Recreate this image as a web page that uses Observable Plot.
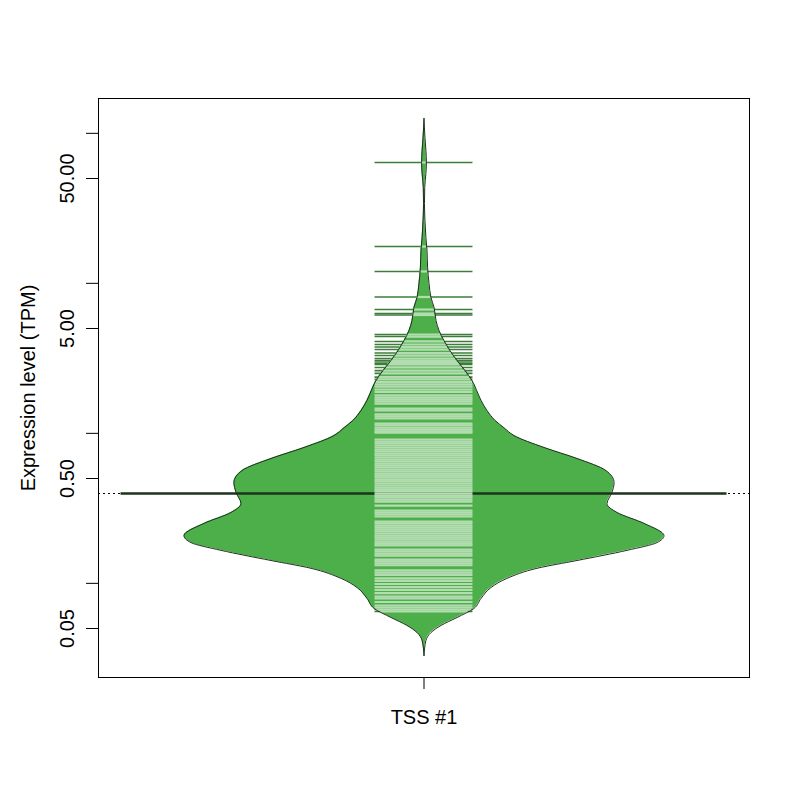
<!DOCTYPE html>
<html>
<head>
<meta charset="utf-8">
<script src="https://cdn.jsdelivr.net/npm/d3@7"></script>
<script src="https://cdn.jsdelivr.net/npm/@observablehq/plot@0.6"></script>
<style>
  html, body { margin: 0; padding: 0; background: #ffffff; }
</style>
</head>
<body>
<div id="chart"></div>
<script>
// ---- data ----
const groupLabel = "TSS #1";
const yTitle = "Expression level (TPM)";
const yTickValues = [0.05, 0.1, 0.5, 1, 5, 10, 50, 100];
const yTickLabels = [0.05, 0.5, 5, 50];

// bean outline: expression value (TPM) and relative density (max = 1)
const densityTPM = [125.6, 93.8, 76.9, 63.9, 54.0, 43.6, 34.1, 26.2, 20.2, 16.6, 12.8, 9.98, 8.05, 6.90,
  5.65, 4.85, 4.16, 3.57, 3.06, 2.62, 2.25, 1.84, 1.66, 1.42, 1.22, 1.09, 0.967, 0.805, 0.680, 0.565,
  0.470, 0.403, 0.340, 0.297, 0.251, 0.208, 0.187, 0.166, 0.142, 0.126, 0.108, 0.0938, 0.0793, 0.0680,
  0.0592, 0.0524, 0.0470, 0.0416, 0.0330];
const densityRel = [0, 0.004, 0.008, 0.010, 0.008, 0.003, 0.002, 0.004, 0.008, 0.0125, 0.015, 0.021, 0.029, 0.042,
  0.05, 0.0625, 0.083, 0.108, 0.1375, 0.171, 0.2, 0.225, 0.2375, 0.2625, 0.296, 0.333, 0.375, 0.5, 0.6375, 0.758,
  0.792, 0.783, 0.7625, 0.804, 0.917, 1.0, 0.971, 0.846, 0.6375, 0.471, 0.346, 0.279, 0.2375, 0.208,
  0.1375, 0.071, 0.029, 0.008, 0];

// individual observations (bean lines), TPM
const lineTPM = [63.9, 17.6, 12.0, 8.11, 6.69, 6.29, 6.15, 4.56, 4.42, 4.10, 3.91, 3.76, 3.62, 3.43, 3.30,
  3.15, 3.04, 2.94, 2.88, 2.75, 2.62, 2.51, 2.37, 2.29, 2.20, 2.12, 2.05, 1.96, 1.89,
  1.79, 1.73, 1.68, 1.63, 1.58, 1.46, 1.42, 1.34, 1.30, 1.26, 1.16, 1.13, 1.09, 1.06, 1.03, 1.01,
  0.910, 0.882, 0.856, 0.830, 0.805, 0.780, 0.757, 0.734, 0.712, 0.690, 0.669, 0.649, 0.629, 0.610,
  0.592, 0.574, 0.557, 0.540, 0.524, 0.508, 0.492, 0.478, 0.463, 0.449, 0.435, 0.422, 0.410, 0.397,
  0.385, 0.374, 0.362, 0.351, 0.330, 0.306, 0.297, 0.288, 0.279, 0.258, 0.251, 0.243, 0.236, 0.229,
  0.222, 0.215, 0.208, 0.202, 0.196, 0.190, 0.184, 0.179, 0.168, 0.163, 0.158, 0.153, 0.144, 0.140,
  0.136, 0.132, 0.122, 0.118, 0.114, 0.108, 0.104, 0.0990, 0.0945, 0.0903, 0.0862, 0.0817, 0.0793,
  0.0751, 0.0712, 0.0690, 0.0669, 0.0649];

const averageTPM = 0.397;

// ---- styling ----
const beanFill = "#4DAF4A";
const outlineColor = "#1f2f1f";
const innerLineColor = "#b3ddb1";
const outerLineColor = "#3c7d3a";
const averageColor = "#1e331e";
const fontFamily = '"Liberation Sans", Arial, Helvetica, sans-serif';
const LINE_HALF = 0.204;   // half length of bean lines (density units)
const AVG_HALF = 1.2625;   // half length of bean average line

const beanTable = densityTPM.map((v, i) => ({v, w: densityRel[i]}));
const logs = beanTable.map(d => Math.log10(d.v));
function widthAt(v) {
  const L = Math.log10(v);
  for (let i = 0; i < beanTable.length - 1; i++) {
    const a = logs[i], b = logs[i + 1];
    if (L <= a && L >= b) {
      const t = (a - L) / (a - b);
      return beanTable[i].w * (1 - t) + beanTable[i + 1].w * t;
    }
  }
  return 0;
}
const innerHalf = d => Math.min(widthAt(d), LINE_HALF);

const chart = Plot.plot({
  width: 800,
  height: 800,
  marginLeft: 98,
  marginRight: 51,
  marginTop: 98,
  marginBottom: 123,
  style: {fontFamily, fontSize: "20px", background: "#ffffff", color: "black"},
  x: {domain: [-1.35625, 1.35625], axis: null},
  y: {type: "log", domain: [0.02357, 170.7], axis: null},
  marks: [
    Plot.ruleY([averageTPM], {y: d => d, stroke: "black", strokeDasharray: "2,3", strokeWidth: 1.1}),
    Plot.ruleY(lineTPM, {y: d => d, x1: () => -LINE_HALF, x2: () => LINE_HALF, stroke: outerLineColor, strokeWidth: 1.6}),
    Plot.areaX(beanTable, {y: "v", x1: d => -d.w, x2: d => d.w, fill: beanFill, curve: "monotone-y"}),
    Plot.ruleY([averageTPM], {y: d => d, x1: () => -AVG_HALF, x2: () => AVG_HALF, stroke: averageColor, strokeWidth: 2.6}),
    Plot.ruleY(lineTPM, {y: d => d, x1: d => -innerHalf(d), x2: d => innerHalf(d), stroke: innerLineColor, strokeWidth: 2.2}),
    Plot.lineX(beanTable, {y: "v", x: d => -d.w, stroke: outlineColor, strokeWidth: 1, curve: "monotone-y"}),
    Plot.lineX(beanTable, {y: "v", x: d => d.w, stroke: outlineColor, strokeWidth: 1, curve: "monotone-y"}),
    Plot.frame({stroke: "black", strokeWidth: 1}),
    Plot.axisY({ticks: yTickValues, tickSize: 12, tickFormat: () => "", label: null, anchor: "left", stroke: "black"}),
    Plot.axisX({ticks: [0], tickSize: 12, tickFormat: () => "", label: null, anchor: "bottom", stroke: "black"}),
    Plot.text(yTickLabels, {y: d => d, text: d => d3.format(".2f")(d), frameAnchor: "left", dx: -31, rotate: -90,
      textAnchor: "middle", lineAnchor: "middle", fontSize: 20, fill: "black"}),
    Plot.text([groupLabel], {x: () => 0, text: d => d, frameAnchor: "bottom", dy: 40,
      textAnchor: "middle", lineAnchor: "middle", fontSize: 20, fill: "black"}),
    Plot.text([yTitle], {text: d => d, frameAnchor: "left", dx: -70, rotate: -90,
      textAnchor: "middle", lineAnchor: "middle", fontSize: 20, fill: "black"})
  ]
});
document.getElementById("chart").appendChild(chart);
</script>
</body>
</html>
